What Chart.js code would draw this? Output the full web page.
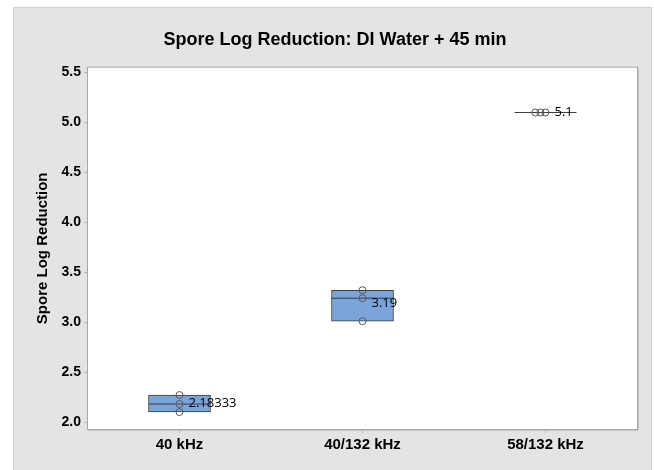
<!DOCTYPE html>
<html>
<head>
<meta charset="utf-8">
<script src="https://cdn.jsdelivr.net/npm/chart.js@4"></script>
<style>
    html, body { margin: 0; padding: 0; background: #ffffff; }
    #panel {
        position: absolute;
        left: 13px;
        top: 7px;
        width: 639px;
        height: 463px;
        background: #e4e4e4;
        box-shadow: inset 1px 1px 0 #d2d2d2, inset -1px 0 0 #d2d2d2;
    }
    canvas { display: block; }
</style>
</head>
<body>
<div id="panel"><canvas id="chart" width="639" height="463"></canvas></div>
<script>
    const categories = ["40 kHz", "40/132 kHz", "58/132 kHz"];
    const q1Values = [2.10, 3.01, 5.10];
    const q3Values = [2.27, 3.32, 5.10];
    const medianValues = [2.18, 3.24, 5.10];
    const meanValues = [2.18333, 3.19, 5.1];
    const obs40 = [2.27, 2.18, 2.10];
    const obs40132 = [3.32, 3.24, 3.01];
    const obs58132 = [5.10, 5.10, 5.10];
    const yTicks = [2.0, 2.5, 3.0, 3.5, 4.0, 4.5, 5.0, 5.5];

    const labelFont = "'Liberation Sans', Arial, sans-serif";

    // tied values get nudged left so the circles stay visible
    const tieStep = 0.028;
    const pointData = [obs40, obs40132, obs58132].flatMap((group, i) =>
        group.map((v, j) => {
            const ties = group.slice(j + 1).filter(x => x === v).length;
            return { x: i - ties * tieStep, y: v };
        })
    );

    const plotFrame = {
        id: "plotFrame",
        beforeDatasetsDraw(chart) {
            const { ctx, chartArea: a } = chart;
            ctx.save();
            ctx.fillStyle = "#ffffff";
            ctx.fillRect(a.left, a.top, a.right - a.left, a.bottom - a.top);
            ctx.restore();
        },
        afterDatasetsDraw(chart) {
            const { ctx, chartArea: a } = chart;
            ctx.save();
            ctx.strokeStyle = "#a8a8a8";
            ctx.lineWidth = 1;
            ctx.strokeRect(a.left - 0.5, a.top - 0.5, a.right - a.left + 1, a.bottom - a.top + 1);
            ctx.strokeStyle = "#c4c4c4";
            ctx.beginPath();
            ctx.moveTo(a.right + 1.5, a.top);
            ctx.lineTo(a.right + 1.5, a.bottom + 1.5);
            ctx.lineTo(a.left, a.bottom + 1.5);
            ctx.stroke();

            const xs = chart.scales.x;
            const ys = chart.scales.y;
            ctx.font = "13px 'Open Sans', sans-serif";
            ctx.fillStyle = "#000000";
            ctx.textAlign = "left";
            ctx.textBaseline = "middle";
            meanValues.forEach((m, i) => {
                ctx.fillText(String(m), xs.getPixelForValue(i) + 9, ys.getPixelForValue(m));
            });
            ctx.restore();
        }
    };

    new Chart(document.getElementById("chart"), {
        data: {
            datasets: [
                {
                    type: "scatter",
                    data: pointData,
                    pointStyle: "circle",
                    pointRadius: 3.5,
                    borderColor: "#5a5a5a",
                    backgroundColor: "rgba(0,0,0,0)",
                    borderWidth: 1,
                    order: 1
                },
                {
                    type: "scatter",
                    data: medianValues.map((v, i) => ({ x: i, y: v })),
                    pointStyle: "line",
                    pointRadius: 31,
                    borderColor: "#3c3c3c",
                    borderWidth: 1,
                    order: 2
                },
                {
                    type: "bar",
                    data: categories.map((c, i) => ({ x: i, y: [q1Values[i], q3Values[i]] })),
                    backgroundColor: "#7ba4d8",
                    borderColor: "#3c3c3c",
                    borderWidth: 1,
                    borderSkipped: false,
                    barThickness: 62,
                    order: 3
                }
            ]
        },
        options: {
            responsive: false,
            animation: false,
            devicePixelRatio: 1,
            layout: { autoPadding: false, padding: { left: 20, right: 15, top: 0, bottom: 0 } },
            plugins: {
                legend: { display: false },
                tooltip: { enabled: false },
                title: {
                    display: true,
                    text: "Spore Log Reduction: DI Water + 45 min",
                    color: "#000000",
                    font: { family: labelFont, size: 18, weight: "bold" },
                    padding: { top: 22, bottom: 17 }
                }
            },
            scales: {
                x: {
                    type: "linear",
                    offset: false,
                    min: -0.5,
                    max: 2.5,
                    afterBuildTicks: (s) => { s.ticks = categories.map((c, i) => ({ value: i })); },
                    afterFit: (s) => {
                        s.height = 41;
                        s.paddingLeft = 0;
                        s.paddingRight = 0;
                    },
                    ticks: {
                        callback: (v) => categories[v],
                        color: "#000000",
                        font: { family: labelFont, size: 15, weight: "bold" },
                        padding: 3,
                        maxRotation: 0
                    },
                    grid: { offset: false, drawOnChartArea: false, tickLength: 4, color: "#b4b4b4" },
                    border: { display: false }
                },
                y: {
                    type: "linear",
                    min: 1.93,
                    max: 5.55,
                    afterBuildTicks: (s) => { s.ticks = yTicks.map(v => ({ value: v })); },
                    afterFit: (s) => { s.width = 55; },
                    ticks: {
                        callback: (v) => v.toFixed(1),
                        color: "#000000",
                        font: { family: labelFont, size: 14, weight: "bold" },
                        padding: 3
                    },
                    grid: { drawOnChartArea: false, tickLength: 4, color: "#b4b4b4" },
                    border: { display: false },
                    title: {
                        display: true,
                        text: "Spore Log Reduction",
                        color: "#000000",
                        font: { family: labelFont, size: 15, weight: "bold" },
                        padding: { top: 1, bottom: 0 }
                    }
                }
            }
        },
        plugins: [plotFrame]
    });
</script>
</body>
</html>
